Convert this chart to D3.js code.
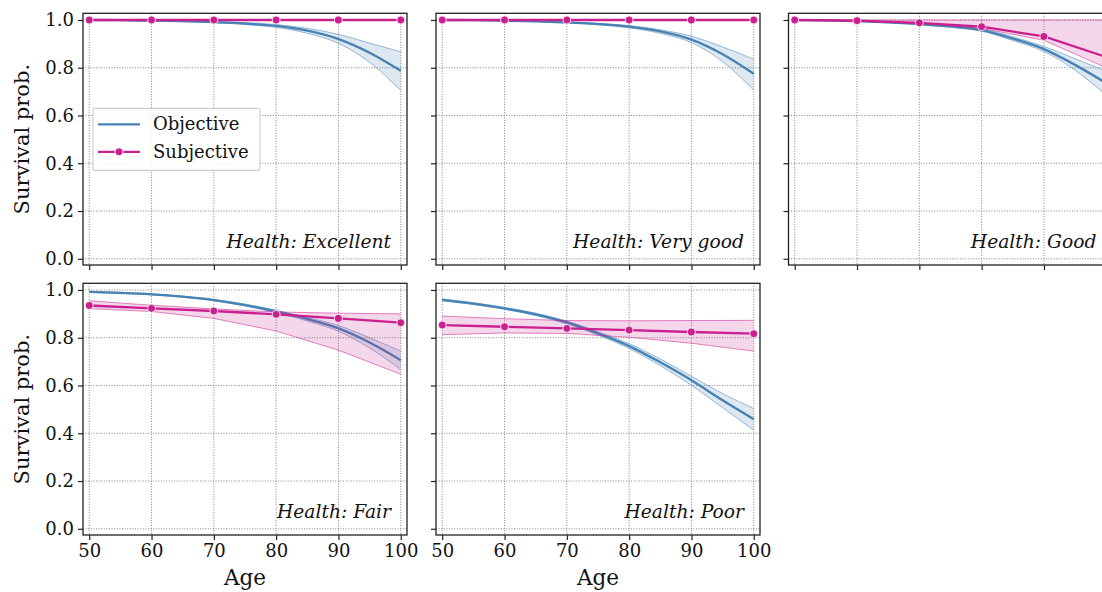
<!DOCTYPE html>
<html>
<head>
<meta charset="utf-8">
<script src="https://cdn.jsdelivr.net/npm/d3@7"></script>
<style>
  html, body { margin: 0; padding: 0; background: #fff; }
  svg { display: block; }
  text { font-family: "DejaVu Serif", serif; fill: #111; }
</style>
</head>
<body>
<svg id="chart" width="1102" height="592"></svg>
<script>
// ---------- Data ----------
const healthLabels = ["Excellent", "Very good", "Good", "Fair", "Poor"];
const objAges = [50, 55, 60, 65, 70, 75, 80, 85, 90, 95, 100];
const subjAges = [50, 60, 70, 80, 90, 100];
const xTicks = [50, 60, 70, 80, 90, 100];
const yTicks = [0.0, 0.2, 0.4, 0.6, 0.8, 1.0];
const seriesNames = ["Objective", "Subjective"];

// Objective (smooth curves, read every 5 years)
const excObjMean = [1.000, 0.999, 0.997, 0.995, 0.991, 0.985, 0.975, 0.955, 0.920, 0.863, 0.787];
const excObjLo   = [1.000, 0.999, 0.996, 0.993, 0.989, 0.981, 0.969, 0.944, 0.902, 0.823, 0.705];
const excObjHi   = [1.000, 0.999, 0.998, 0.997, 0.993, 0.989, 0.981, 0.965, 0.940, 0.903, 0.867];

const vgObjMean = [1.000, 0.999, 0.997, 0.994, 0.990, 0.983, 0.972, 0.952, 0.918, 0.857, 0.775];
const vgObjLo   = [1.000, 0.998, 0.996, 0.993, 0.988, 0.980, 0.967, 0.944, 0.905, 0.826, 0.706];
const vgObjHi   = [1.000, 0.999, 0.998, 0.995, 0.992, 0.986, 0.977, 0.959, 0.932, 0.887, 0.836];

const goodObjMean = [0.999, 0.998, 0.995, 0.990, 0.983, 0.973, 0.958, 0.922, 0.878, 0.812, 0.735];
const goodObjLo   = [0.999, 0.997, 0.994, 0.988, 0.980, 0.969, 0.953, 0.914, 0.868, 0.790, 0.685];
const goodObjHi   = [1.000, 0.999, 0.996, 0.992, 0.986, 0.977, 0.963, 0.930, 0.889, 0.838, 0.785];

const fairObjMean = [0.992, 0.988, 0.982, 0.972, 0.958, 0.937, 0.910, 0.878, 0.839, 0.780, 0.706];
const fairObjLo   = [0.990, 0.986, 0.980, 0.970, 0.955, 0.933, 0.905, 0.870, 0.827, 0.757, 0.667];
const fairObjHi   = [0.994, 0.990, 0.984, 0.974, 0.961, 0.941, 0.915, 0.885, 0.851, 0.800, 0.744];

const poorObjMean = [0.959, 0.943, 0.923, 0.898, 0.864, 0.818, 0.765, 0.697, 0.622, 0.538, 0.459];
const poorObjLo   = [0.955, 0.939, 0.919, 0.893, 0.858, 0.811, 0.755, 0.683, 0.601, 0.507, 0.413];
const poorObjHi   = [0.963, 0.947, 0.927, 0.903, 0.870, 0.825, 0.775, 0.711, 0.639, 0.566, 0.504];

// Subjective (points every 10 years)
const excSubjMean = [1.000, 1.000, 1.000, 1.000, 1.000, 1.000];
const excSubjLo   = [1.000, 1.000, 1.000, 1.000, 1.000, 1.000];
const excSubjHi   = [1.000, 1.000, 1.000, 1.000, 1.000, 1.000];

const vgSubjMean = [1.000, 1.000, 1.000, 1.000, 1.000, 1.000];
const vgSubjLo   = [1.000, 1.000, 1.000, 1.000, 1.000, 1.000];
const vgSubjHi   = [1.000, 1.000, 1.000, 1.000, 1.000, 1.000];

const goodSubjMean = [1.000, 0.997, 0.988, 0.972, 0.931, 0.845];
const goodSubjLo   = [0.999, 0.995, 0.985, 0.965, 0.915, 0.800];
const goodSubjHi   = [1.000, 1.000, 1.000, 1.000, 1.000, 1.000];

const fairSubjMean = [0.935, 0.923, 0.912, 0.898, 0.881, 0.863];
const fairSubjLo   = [0.922, 0.910, 0.881, 0.828, 0.748, 0.647];
const fairSubjHi   = [0.955, 0.936, 0.921, 0.908, 0.903, 0.900];

const poorSubjMean = [0.853, 0.846, 0.839, 0.832, 0.824, 0.817];
const poorSubjLo   = [0.813, 0.820, 0.818, 0.802, 0.777, 0.744];
const poorSubjHi   = [0.891, 0.880, 0.872, 0.871, 0.872, 0.873];

// ---------- Build panel table ----------
const panels = [
  { label: healthLabels[0], obj: [excObjMean, excObjLo, excObjHi],   subj: [excSubjMean, excSubjLo, excSubjHi] },
  { label: healthLabels[1], obj: [vgObjMean, vgObjLo, vgObjHi],      subj: [vgSubjMean, vgSubjLo, vgSubjHi] },
  { label: healthLabels[2], obj: [goodObjMean, goodObjLo, goodObjHi], subj: [goodSubjMean, goodSubjLo, goodSubjHi] },
  { label: healthLabels[3], obj: [fairObjMean, fairObjLo, fairObjHi], subj: [fairSubjMean, fairSubjLo, fairSubjHi] },
  { label: healthLabels[4], obj: [poorObjMean, poorObjLo, poorObjHi], subj: [poorSubjMean, poorSubjLo, poorSubjHi] }
];

// ---------- Layout ----------
const colLefts = [83, 436, 788.5];
const rowTops = [13.3, 283.3];
const pw = 324, ph = 251.7;
const blue = "#4682b4";
const pink = "#c9208e";
const fs = 18;

const svg = d3.select("#chart");

const x = d3.scaleLinear().domain([49, 101]).range([0, pw]);
const y = d3.scaleLinear().domain([-0.026, 1.028]).range([ph, 0]);

const defs = svg.append("defs");

panels.forEach((p, i) => {
  const col = i % 3, row = Math.floor(i / 3);
  const g = svg.append("g").attr("transform", `translate(${colLefts[col]},${rowTops[row]})`);

  defs.append("clipPath").attr("id", "clip" + i)
    .append("rect").attr("x", 0).attr("y", 0).attr("width", pw).attr("height", ph);

  // grid
  const grid = g.append("g");
  grid.selectAll("line.gx").data(xTicks).join("line")
    .attr("x1", d => x(d)).attr("x2", d => x(d)).attr("y1", 0).attr("y2", ph)
    .attr("stroke", "#777").attr("stroke-width", 0.9).attr("stroke-dasharray", "1,1.6");
  grid.selectAll("line.gy").data(yTicks).join("line")
    .attr("y1", d => y(d)).attr("y2", d => y(d)).attr("x1", 0).attr("x2", pw)
    .attr("stroke", "#777").attr("stroke-width", 0.9).attr("stroke-dasharray", "1,1.6");

  const plot = g.append("g").attr("clip-path", `url(#clip${i})`);

  function drawSeries(ages, arr, color, curve, withMarkers) {
    const [mean, lo, hi] = arr;
    const rows = ages.map((a, k) => ({ a, m: mean[k], lo: lo[k], hi: hi[k] }));
    const area = d3.area().x(d => x(d.a)).y0(d => y(d.lo)).y1(d => y(d.hi)).curve(curve);
    plot.append("path").datum(rows).attr("d", area)
      .attr("fill", color).attr("fill-opacity", 0.18).attr("stroke", "none");
    const loLine = d3.line().x(d => x(d.a)).y(d => y(d.lo)).curve(curve);
    const hiLine = d3.line().x(d => x(d.a)).y(d => y(d.hi)).curve(curve);
    [loLine, hiLine].forEach(L => {
      plot.append("path").datum(rows).attr("d", L)
        .attr("fill", "none").attr("stroke", color).attr("stroke-opacity", 0.6).attr("stroke-width", 0.9);
    });
    const line = d3.line().x(d => x(d.a)).y(d => y(d.m)).curve(curve);
    plot.append("path").datum(rows).attr("d", line)
      .attr("fill", "none").attr("stroke", color).attr("stroke-width", 2.3);
    if (withMarkers) {
      plot.selectAll(null).data(rows).join("circle")
        .attr("cx", d => x(d.a)).attr("cy", d => y(d.m)).attr("r", 4)
        .attr("fill", color).attr("stroke", "#fff").attr("stroke-width", 0.8);
    }
  }
  drawSeries(objAges, p.obj, blue, d3.curveMonotoneX, false);
  drawSeries(subjAges, p.subj, pink, d3.curveLinear, true);

  // axes
  const yAxis = d3.axisLeft(y).tickValues(yTicks).tickSize(5).tickPadding(4)
    .tickFormat(col === 0 ? d3.format(".1f") : () => "");
  const xAxis = d3.axisBottom(x).tickValues(xTicks).tickSize(5).tickPadding(4)
    .tickFormat(row === 1 ? d3.format("d") : () => "");
  const ya = g.append("g").call(yAxis);
  const xa = g.append("g").attr("transform", `translate(0,${ph})`).call(xAxis);
  [ya, xa].forEach(a => {
    a.select(".domain").remove();
    a.selectAll(".tick line").attr("stroke", "#222").attr("stroke-width", 1.2);
    a.selectAll(".tick text").attr("font-family", "DejaVu Serif").attr("font-size", fs).attr("fill", "#111");
  });

  // frame
  g.append("rect").attr("x", 0).attr("y", 0).attr("width", pw).attr("height", ph)
    .attr("fill", "none").attr("stroke", "#222").attr("stroke-width", 1.3);

  // annotation
  g.append("text").attr("x", pw - 16).attr("y", ph - 16.5)
    .attr("text-anchor", "end").attr("font-style", "italic").attr("font-size", 18.7)
    .text("Health: " + p.label);

  if (col === 0) {
    g.append("text").attr("transform", `translate(${-54},${ph / 2}) rotate(-90)`)
      .attr("text-anchor", "middle").attr("font-size", 21).text("Survival prob.");
  }
  if (row === 1) {
    g.append("text").attr("x", pw / 2).attr("y", ph + 50.5)
      .attr("text-anchor", "middle").attr("font-size", 21.5).text("Age");
  }

  // legend in first panel
  if (i === 0) {
    const lg = g.append("g").attr("transform", "translate(10,95)");
    lg.append("rect").attr("x", 0).attr("y", 0).attr("width", 167).attr("height", 62).attr("rx", 2)
      .attr("fill", "#fff").attr("fill-opacity", 0.85).attr("stroke", "#d0d0d0").attr("stroke-width", 1.2);
    const items = [{ name: seriesNames[0], color: blue, marker: false },
                   { name: seriesNames[1], color: pink, marker: true }];
    items.forEach((it, k) => {
      const yy = 16 + k * 27.5;
      lg.append("line").attr("x1", 5).attr("x2", 47).attr("y1", yy).attr("y2", yy)
        .attr("stroke", it.color).attr("stroke-width", 2.3);
      if (it.marker) {
        lg.append("circle").attr("cx", 26).attr("cy", yy).attr("r", 4)
          .attr("fill", it.color).attr("stroke", "#fff").attr("stroke-width", 0.8);
      }
      lg.append("text").attr("x", 60).attr("y", yy + 6).attr("font-size", fs).text(it.name);
    });
  }
});
</script>
</body>
</html>
